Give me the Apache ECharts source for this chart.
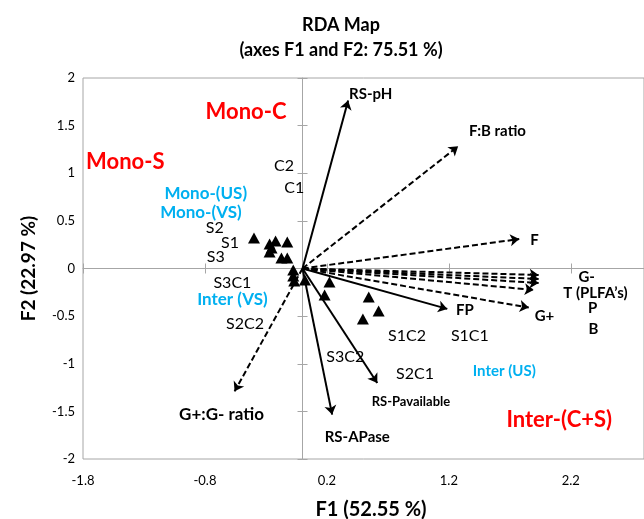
<!DOCTYPE html>
<html><head><meta charset="utf-8">
<script src="https://cdn.jsdelivr.net/npm/echarts@6/dist/echarts.min.js"></script>
<style>html,body{margin:0;padding:0;background:#fff}#c{width:644px;height:519px}</style>
</head><body><div id="c"></div>
<script>
// ---- data (RDA scores) ----
const sampleX = [-0.398, -0.270, -0.254, -0.270, -0.221, -0.125, -0.173, -0.125, -0.076, -0.076, -0.068, 0.020, 0.221, 0.181, 0.543, 0.624, 0.495];
const sampleY = [0.319, 0.257, 0.215, 0.173, 0.288, 0.277, 0.110, 0.110, -0.016, -0.079, -0.131, -0.120, -0.141, -0.277, -0.298, -0.445, -0.529];

const variableNames = ['RS-pH', 'F:B ratio', 'F', 'G-', 'T (PLFA’s)', 'P', 'B', 'G+', 'FP', 'RS-Pavailable', 'RS-APase', 'G+:G- ratio'];
const variableKind  = ['soil', 'plfa', 'plfa', 'plfa', 'plfa', 'plfa', 'plfa', 'plfa', 'soil', 'soil', 'soil', 'plfa'];
const variableX = [0.374, 1.276, 1.777, 1.936, 1.936, 1.936, 1.895, 1.855, 1.187, 0.613, 0.243, -0.557];
const variableY = [1.764, 1.283, 0.309, -0.068, -0.110, -0.152, -0.225, -0.410, -0.424, -1.202, -1.534, -1.290];
const variableLabelX = [0.559, 1.598, 1.903, 2.330, 2.402, 2.378, 2.386, 1.984, 1.332, 0.889, 0.449, -0.664];
const variableLabelY = [1.827, 1.440, 0.298, -0.089, -0.257, -0.414, -0.634, -0.497, -0.435, -1.398, -1.773, -1.534];

const sampleLabels  = ['C2', 'C1', 'S2', 'S1', 'S3', 'S3C1', 'S2C2', 'S3C2', 'S1C2', 'S1C1', 'S2C1'];
const sampleLabelX  = [-0.151, -0.068, -0.720, -0.594, -0.712, -0.575, -0.471, 0.350, 0.857, 1.372, 0.922];
const sampleLabelY  = [1.073, 0.843, 0.424, 0.267, 0.120, -0.152, -0.581, -0.927, -0.707, -0.707, -1.105];

const groupLabels = ['Mono-(US)', 'Mono-(VS)', 'Inter (VS)', 'Inter (US)'];
const groupLabelX = [-0.793, -0.833, -0.575, 1.654];
const groupLabelY = [0.791, 0.592, -0.330, -1.073];

const systemLabels = ['Mono-C', 'Mono-S', 'Inter-(C+S)'];
const systemLabelX = [-0.463, -1.453, 2.105];
const systemLabelY = [1.639, 1.115, -1.586];

const xMin = -1.8, xMax = 2.8, xStep = 1;
const yMin = -2, yMax = 2, yStep = 0.5;

// ---- chart ----
const FONT = 'Lato, "Open Sans", sans-serif';
const GRAY = '#a6a6a6';
const chart = echarts.init(document.getElementById('c'), null, {renderer: 'canvas'});

function arrowData(kind) {
  const out = [];
  variableNames.forEach((n, i) => {
    if (variableKind[i] === kind) out.push({name: n, coords: [[0, 0], [variableX[i], variableY[i]]]});
  });
  return out;
}
function textData(names, xs, ys) {
  return names.map((n, i) => ({name: n, value: [xs[i], ys[i]]}));
}
function textSeries(names, xs, ys, color, size, weight) {
  return {
    type: 'scatter', silent: true, z: 6,
    symbol: 'circle', symbolSize: 1,
    itemStyle: {color: 'rgba(0,0,0,0)'},
    label: {show: true, position: [0.5, 0.5], align: 'center', verticalAlign: 'middle',
      formatter: '{b}', color: color, opacity: 1, textBorderWidth: 0,
      fontFamily: FONT, fontSize: size, fontWeight: weight},
    data: textData(names, xs, ys)
  };
}
function pick(arr, names) {
  return arr.filter((v, i) => names.indexOf(variableNames[i]) >= 0);
}

const baseX = {type: 'value', min: xMin, max: xMax, interval: xStep, splitLine: {show: false}};
const baseY = {type: 'value', min: yMin, max: yMax, interval: yStep, splitLine: {show: false}};
const mainVars = variableNames.filter(n => n !== 'RS-Pavailable' && n !== 'G+:G- ratio');

const option = {
  animation: false,
  backgroundColor: '#fff',
  title: [
    {text: 'RDA Map', left: 336, top: 11, textAlign: 'center',
     textStyle: {fontFamily: FONT, fontSize: 18, fontWeight: 'bold', color: '#000'}},
    {text: '(axes F1 and F2: 75.51 %)', left: 336, top: 36, textAlign: 'center',
     textStyle: {fontFamily: FONT, fontSize: 18, fontWeight: 'bold', color: '#000'}},
    {text: 'F1 (52.55 %)', left: 366, top: 495, textAlign: 'center',
     textStyle: {fontFamily: FONT, fontSize: 20, fontWeight: 'bold', color: '#000'}}
  ],
  grid: {left: 83, top: 78, width: (xMax - xMin) * 124, height: 381,
         show: true, borderColor: GRAY, borderWidth: 1, backgroundColor: 'transparent'},
  xAxis: [
    Object.assign({}, baseX, {position: 'bottom',
      axisLine: {show: false, onZero: false}, axisTick: {show: false},
      axisLabel: {fontFamily: FONT, fontSize: 13, color: '#000', margin: 15, showMaxLabel: false,
        formatter: v => v.toFixed(1)}}),
    Object.assign({}, baseX, {position: 'bottom',
      axisLine: {show: true, onZero: true, onZeroAxisIndex: 0, lineStyle: {color: GRAY, width: 1}},
      axisTick: {show: true, length: 5, lineStyle: {color: GRAY}}, axisLabel: {show: false}}),
    Object.assign({}, baseX, {position: 'bottom',
      axisLine: {show: false, onZero: true, onZeroAxisIndex: 0},
      axisTick: {show: true, inside: true, length: 5, lineStyle: {color: GRAY}}, axisLabel: {show: false}})
  ],
  yAxis: [
    Object.assign({}, baseY, {position: 'left',
      axisLine: {show: false, onZero: false}, axisTick: {show: false},
      axisLabel: {fontFamily: FONT, fontSize: 13, color: '#000', margin: 8},
      name: 'F2 (22.97 %)', nameLocation: 'middle', nameRotate: 90, nameGap: 45,
      nameTextStyle: {fontFamily: FONT, fontSize: 19, fontWeight: 'bold', color: '#000'}}),
    Object.assign({}, baseY, {position: 'left',
      axisLine: {show: true, onZero: true, onZeroAxisIndex: 0, lineStyle: {color: GRAY, width: 1}},
      axisTick: {show: true, length: 5, lineStyle: {color: GRAY}}, axisLabel: {show: false}}),
    Object.assign({}, baseY, {position: 'left',
      axisLine: {show: false, onZero: true, onZeroAxisIndex: 0},
      axisTick: {show: true, inside: true, length: 5, lineStyle: {color: GRAY}}, axisLabel: {show: false}})
  ],
  series: [
    {type: 'scatter', z: 3, silent: true, symbol: 'triangle', symbolSize: [12, 11],
     itemStyle: {color: '#000', opacity: 1}, data: sampleX.map((x, i) => [x, sampleY[i]])},
    {type: 'lines', coordinateSystem: 'cartesian2d', z: 4, silent: true,
     symbol: ['none', 'arrow'], symbolSize: 9,
     lineStyle: {color: '#000', width: 2, opacity: 1, type: 'solid'},
     data: arrowData('soil')},
    {type: 'lines', coordinateSystem: 'cartesian2d', z: 4, silent: true,
     symbol: ['none', 'arrow'], symbolSize: 9,
     lineStyle: {color: '#000', width: 2, opacity: 1, type: [6, 3]},
     data: arrowData('plfa')},
    textSeries(mainVars, pick(variableLabelX, mainVars), pick(variableLabelY, mainVars), '#000', 15, 'bold'),
    textSeries(['RS-Pavailable'], pick(variableLabelX, ['RS-Pavailable']), pick(variableLabelY, ['RS-Pavailable']), '#000', 13, 'bold'),
    textSeries(['G+:G- ratio'], pick(variableLabelX, ['G+:G- ratio']), pick(variableLabelY, ['G+:G- ratio']), '#000', 17, 'bold'),
    textSeries(sampleLabels, sampleLabelX, sampleLabelY, '#000', 16, 'normal'),
    textSeries(groupLabels.slice(0, 3), groupLabelX.slice(0, 3), groupLabelY.slice(0, 3), '#00B0F0', 17, 'bold'),
    textSeries(groupLabels.slice(3), groupLabelX.slice(3), groupLabelY.slice(3), '#00B0F0', 15, 'bold'),
    textSeries(systemLabels, systemLabelX, systemLabelY, '#FF0000', 22, 'bold')
  ]
};
chart.setOption(option);
</script></body></html>
